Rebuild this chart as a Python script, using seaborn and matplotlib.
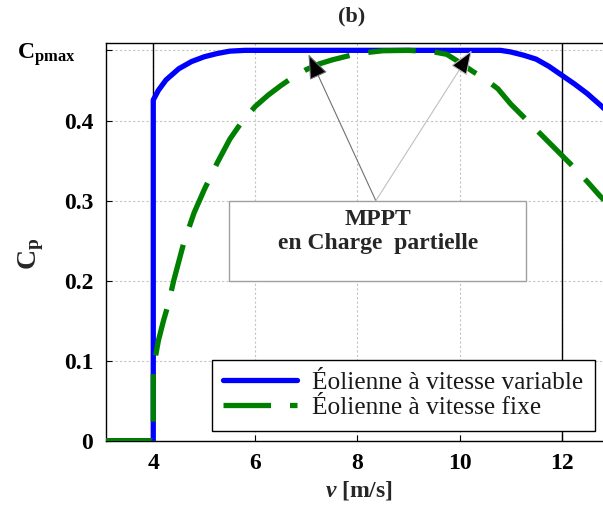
import matplotlib
matplotlib.use("Agg")
import matplotlib.pyplot as plt
import matplotlib.transforms as mtransforms
from matplotlib.patches import Rectangle
import numpy as np
import pandas as pd
import seaborn as sns

# vitesse du vent [m/s]
v_var = [3.07, 4.0, 4.0, 4.1, 4.25, 4.5, 4.75, 5.0, 5.25, 5.5, 5.8, 6.5, 7.5,
         8.5, 9.5, 10.5, 10.8, 11.0, 11.25, 11.5, 11.75, 12.0, 12.25, 12.5,
         12.75, 13.0]
cp_var = [0.0, 0.0, 0.426, 0.438, 0.451, 0.465, 0.474, 0.480, 0.484, 0.487,
          0.488, 0.488, 0.488, 0.488, 0.488, 0.488, 0.488, 0.486, 0.482,
          0.477, 0.468, 0.457, 0.446, 0.434, 0.420, 0.405]

v_fix = [3.07, 4.0, 4.0, 4.1, 4.2, 4.3, 4.4, 4.5, 4.6, 4.8, 5.0, 5.25, 5.5,
         5.75, 6.0, 6.25, 6.5, 6.75, 7.0, 7.25, 7.5, 7.75, 8.0, 8.5, 9.0, 9.5,
         9.75, 10.0, 10.25, 10.5, 10.75, 11.0, 11.25, 11.5, 11.75, 12.0, 12.25,
         12.5, 12.75, 13.0]
cp_fix = [0.0, 0.0, 0.09, 0.125, 0.15, 0.172, 0.2, 0.224, 0.248, 0.285, 0.314,
          0.347, 0.377, 0.400, 0.418, 0.432, 0.444, 0.455, 0.464, 0.471, 0.476,
          0.480, 0.484, 0.4875, 0.488, 0.486, 0.483, 0.473, 0.462, 0.452,
          0.440, 0.421, 0.405, 0.389, 0.373, 0.357, 0.341, 0.324, 0.306, 0.29]

cp_max = 0.488
x_ticks = [4, 6, 8, 10, 12]
y_ticks = [0, 0.1, 0.2, 0.3, 0.4, cp_max]
y_ticklabels = ["0", "0.1", "0.2", "0.3", "0.4", r"$\mathbf{C_{pmax}}$"]
v_limits = [4, 12]  # vitesse de démarrage / nominale
mppt_tips = [(7.04, 0.483), (10.24, 0.488)]

df_var = pd.DataFrame({"v": v_var, "cp": cp_var})
df_fix = pd.DataFrame({"v": v_fix, "cp": cp_fix})

sns.set_theme(style="ticks")
plt.rcParams["font.family"] = ["Liberation Serif", "DejaVu Serif"]
plt.rcParams["mathtext.fontset"] = "custom"
plt.rcParams["mathtext.rm"] = "Liberation Serif"
plt.rcParams["mathtext.bf"] = "Liberation Serif:bold"
plt.rcParams["mathtext.it"] = "Liberation Serif:italic"
plt.rcParams["mathtext.bfit"] = "Liberation Serif:bold:italic"

fig = plt.figure(figsize=(6.03, 5.11), dpi=100)
ax = fig.add_axes([105.7 / 603, 70.3 / 511, 507 / 603, 397.4 / 511])

ax.grid(True, color="#c4c4c4", linestyle=(0, (2, 2)), linewidth=0.8)
ax.set_axisbelow(True)
for xv in v_limits:
    ax.axvline(xv, color="black", linewidth=1, zorder=1.5)

sns.lineplot(data=df_var, x="v", y="cp", sort=False, estimator=None,
             color="#0000ff", linewidth=3.8, label="Éolienne à vitesse variable",
             ax=ax, zorder=3)
sns.lineplot(data=df_fix, x="v", y="cp", sort=False, estimator=None,
             color="#008000", linewidth=3.8, label="Éolienne à vitesse fixe",
             ax=ax, zorder=4)
ax.lines[-1].set_dashes((9, 3.6))

# boite MPPT
ax.add_patch(Rectangle((5.49, 0.2), 5.82, 0.1, facecolor="white",
                       edgecolor="#a0a0a0", linewidth=1, zorder=2))
ax.text(8.4, 0.262, "MPPT\nen Charge  partielle", ha="center", va="center",
        fontsize=17, fontweight="bold", linespacing=1.2, zorder=5)
for (tx, ty), lc in zip(mppt_tips, ["#707070", "#c0c0c0"]):
    ax.annotate("", xy=(tx, ty), xytext=(8.36, 0.3),
                arrowprops=dict(arrowstyle="-|>,head_length=1.3,head_width=0.5",
                                ec=lc, fc="black", lw=0.8, shrinkA=0, shrinkB=0),
                zorder=6)

ax.set_xlim(3.068, 13.0)
ax.set_ylim(0, 0.4968)
ax.set_xticks(x_ticks)
ax.set_xticklabels([str(t) for t in x_ticks], fontweight="bold")
ax.set_yticks(y_ticks)
ax.set_yticklabels(y_ticklabels, fontweight="bold")
ax.tick_params(direction="in", length=4, width=0.8, labelsize=17, pad=9,
               colors="black")
lab = ax.get_yticklabels()[-1]
lab.set_transform(lab.get_transform() +
                  mtransforms.ScaledTranslation(-0.18, 0, fig.dpi_scale_trans))

for side in ["top", "left", "bottom", "right"]:
    ax.spines[side].set_color("black")
    ax.spines[side].set_linewidth(1)

ax.set_xlabel(r"$\mathbfit{v}$ [m/s]", fontsize=17, fontweight="bold")
ax.xaxis.set_label_coords(0.5, -0.097)
ax.set_ylabel(r"$\mathbf{C_p}$", fontsize=20)
ax.yaxis.set_label_coords(-0.118, 0.47)
ax.set_title("(b)", fontsize=16, fontweight="bold", pad=16, x=0.486)

leg = ax.legend(loc="upper left", bbox_to_anchor=(0.209, 0.203),
                borderaxespad=0, frameon=True, fancybox=False,
                edgecolor="black", framealpha=1, fontsize=18.3,
                handlelength=2.9, handletextpad=0.6, labelspacing=0.08,
                borderpad=0.45)
leg.get_frame().set_linewidth(1)
leg.set_zorder(7)
for t in leg.get_texts():
    t.set_color("#1a1a1a")

fig.savefig("out.png", dpi=100)
